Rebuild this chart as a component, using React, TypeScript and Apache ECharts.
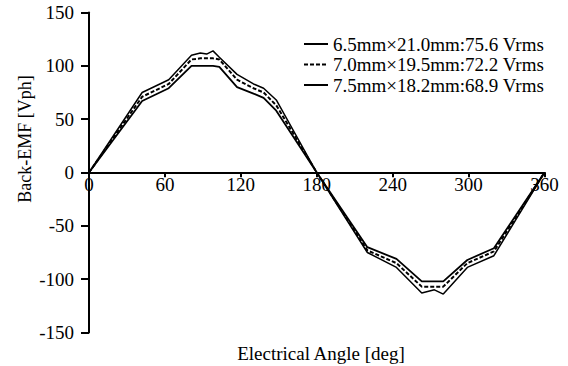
import { useEffect, useRef } from "react";
import * as echarts from "echarts";

// Electrical angle [deg] of the sampled vertices
const angles = [0, 42, 63, 81, 88, 93, 98, 103, 117, 130, 138, 148, 180, 220, 243, 263, 273, 280, 299, 320, 360];
// Back-EMF [Vph] for each magnet size
const emf65 = [0, 75, 87, 110, 112, 111, 114, 108, 92, 83, 79, 68, 0, -75, -89, -113, -110, -114, -89, -78, 0];
const emf70 = [0, 71, 83, 106, 107, 107, 107, 106, 87, 79, 75, 63, 0, -73, -85, -107, -107, -107, -85, -74, 0];
const emf75 = [0, 67, 79, 100, 100, 100, 100, 99, 80, 74, 70, 58, 0, -70, -81, -102, -102, -102, -82, -71, 0];

const seriesNames = [
  "6.5mm×21.0mm:75.6 Vrms",
  "7.0mm×19.5mm:72.2 Vrms",
  "7.5mm×18.2mm:68.9 Vrms",
];
const xTicks = { min: 0, max: 360, interval: 60 };
const yTicks = { min: -150, max: 150, interval: 50 };
const xTitle = "Electrical Angle [deg]";
const yTitle = "Back-EMF [Vph]";

const FONT = "'Times New Roman', 'Liberation Serif', serif";

export default function App() {
  const ref = useRef<HTMLDivElement>(null);
  useEffect(() => {
    const chart = echarts.init(ref.current!, null, { renderer: "svg" });
    const mk = (name: string, vals: number[], lineStyle: any) => ({
      name,
      type: "line",
      data: angles.map((a, i) => [a, vals[i]]),
      showSymbol: false,
      symbol: "none",
      lineStyle: { color: "#000", ...lineStyle },
      itemStyle: { color: "#000" },
    });
    chart.setOption({
      animation: false,
      backgroundColor: "#fff",
      grid: { left: 89, right: 23.5, top: 12.5, bottom: 33.5 },
      xAxis: {
        type: "value",
        ...xTicks,
        position: "bottom",
        offset: -160.2,
        axisLine: { onZero: false, lineStyle: { color: "#000", width: 2 } },
        axisTick: { show: true, inside: false, length: 5, lineStyle: { color: "#000", width: 2 } },
        axisLabel: { color: "#000", fontFamily: FONT, fontSize: 19, margin: 3 },
        splitLine: { show: false },
      },
      yAxis: {
        type: "value",
        ...yTicks,
        axisLine: { show: true, onZero: false, lineStyle: { color: "#000", width: 2 } },
        axisTick: { show: true, inside: false, length: 8, lineStyle: { color: "#000", width: 2 } },
        axisLabel: { color: "#000", fontFamily: FONT, fontSize: 19, margin: 15 },
        splitLine: { show: false },
      },
      legend: {
        orient: "vertical",
        left: 298,
        top: 29.5,
        itemWidth: 24,
        itemHeight: 10,
        itemGap: 1.5,
        itemStyle: { opacity: 0 },
        textStyle: { color: "#000", fontFamily: FONT, fontSize: 19, lineHeight: 19 },
        data: seriesNames,
      },
      graphic: [
        {
          type: "text",
          x: 321,
          y: 353,
          style: { text: xTitle, font: `19px ${FONT}`, fill: "#000", align: "center", verticalAlign: "middle" },
        },
        {
          type: "text",
          x: 25,
          y: 139,
          rotation: Math.PI / 2,
          style: { text: yTitle, font: `18px ${FONT}`, fill: "#000", align: "center", verticalAlign: "middle" },
        },
      ],
      series: [
        mk(seriesNames[0], emf65, { width: 1.5, type: "solid" }),
        mk(seriesNames[1], emf70, { width: 2, type: [4, 2] }),
        mk(seriesNames[2], emf75, { width: 1.8, type: "solid" }),
      ],
    });
    return () => chart.dispose();
  }, []);
  return <div ref={ref} style={{ position: "fixed", left: 0, top: 0, width: 568, height: 366 }} />;
}
